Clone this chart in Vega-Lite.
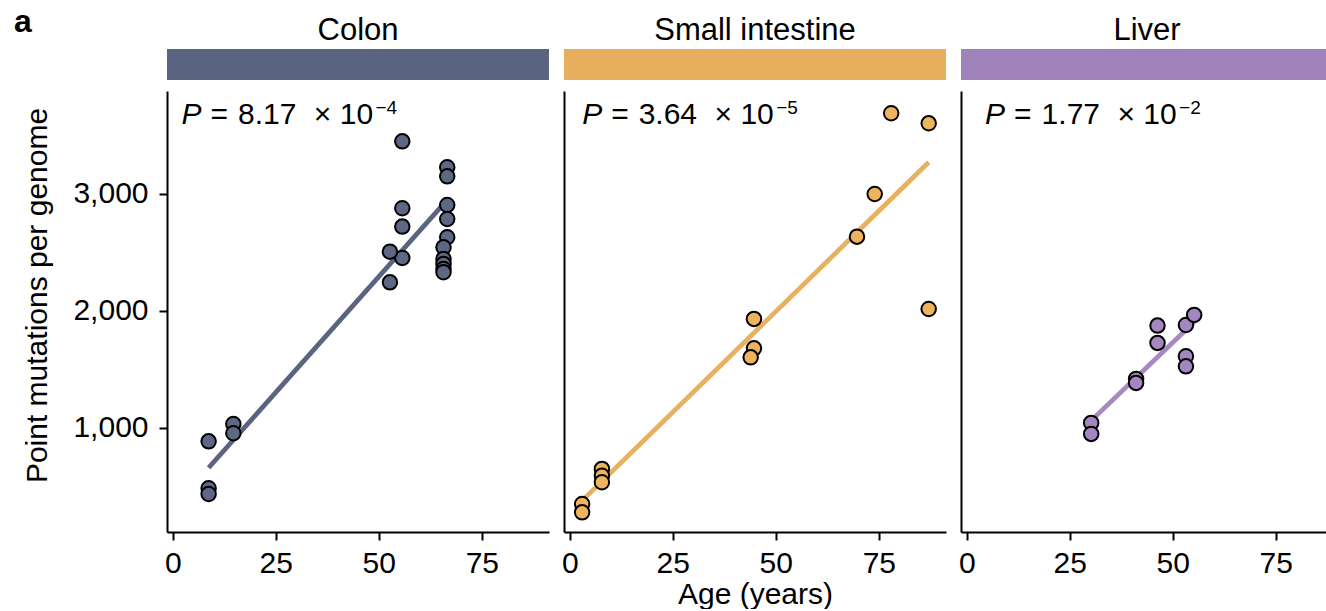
{
  "$schema": "https://vega.github.io/schema/vega-lite/v6.json",
  "padding": {"left": 13, "top": 6, "right": 0, "bottom": 0},
  "background": "white",
  "title": {"text": "a", "anchor": "start", "frame": "bounds", "fontSize": 32, "fontWeight": "bold", "color": "black", "font": "Liberation Sans", "offset": -24, "dx": -9},
  "config": {
    "font": "Liberation Sans",
    "view": {"stroke": null},
    "axis": {"domainColor": "black", "domainWidth": 2, "tickColor": "black", "tickWidth": 2, "tickSize": 8, "labelColor": "black", "labelFontSize": 30, "titleFontSize": 30, "titleFontWeight": "normal", "titleColor": "black", "grid": false, "labelFlush": false, "labelPadding": 8},
    "title": {"fontWeight": "normal", "color": "black"}
  },
  "datasets": {
    "strips": [{"tissue": "Colon"}, {"tissue": "Small intestine"}, {"tissue": "Liver"}],
    "pts": [
      {"tissue": "Colon", "age": 8.7, "value": 886},
      {"tissue": "Colon", "age": 8.7, "value": 485},
      {"tissue": "Colon", "age": 8.7, "value": 436},
      {"tissue": "Colon", "age": 14.7, "value": 1034},
      {"tissue": "Colon", "age": 14.7, "value": 955},
      {"tissue": "Colon", "age": 55.7, "value": 3450},
      {"tissue": "Colon", "age": 55.7, "value": 2878},
      {"tissue": "Colon", "age": 55.7, "value": 2721},
      {"tissue": "Colon", "age": 55.7, "value": 2453},
      {"tissue": "Colon", "age": 52.7, "value": 2507},
      {"tissue": "Colon", "age": 52.7, "value": 2245},
      {"tissue": "Colon", "age": 66.6, "value": 3228},
      {"tissue": "Colon", "age": 66.6, "value": 3151},
      {"tissue": "Colon", "age": 66.6, "value": 2906},
      {"tissue": "Colon", "age": 66.6, "value": 2786},
      {"tissue": "Colon", "age": 66.6, "value": 2630},
      {"tissue": "Colon", "age": 65.7, "value": 2544},
      {"tissue": "Colon", "age": 65.7, "value": 2444},
      {"tissue": "Colon", "age": 65.7, "value": 2402},
      {"tissue": "Colon", "age": 65.7, "value": 2359},
      {"tissue": "Colon", "age": 65.7, "value": 2331},
      {"tissue": "Small intestine", "age": 3.0, "value": 350},
      {"tissue": "Small intestine", "age": 3.0, "value": 279},
      {"tissue": "Small intestine", "age": 7.8, "value": 650},
      {"tissue": "Small intestine", "age": 7.8, "value": 592},
      {"tissue": "Small intestine", "age": 7.8, "value": 536},
      {"tissue": "Small intestine", "age": 44.7, "value": 1932},
      {"tissue": "Small intestine", "age": 44.7, "value": 1681},
      {"tissue": "Small intestine", "age": 43.9, "value": 1604},
      {"tissue": "Small intestine", "age": 69.7, "value": 2635},
      {"tissue": "Small intestine", "age": 74.0, "value": 3000},
      {"tissue": "Small intestine", "age": 78.0, "value": 3690},
      {"tissue": "Small intestine", "age": 87.1, "value": 3604},
      {"tissue": "Small intestine", "age": 87.1, "value": 2017},
      {"tissue": "Liver", "age": 30.2, "value": 1043},
      {"tissue": "Liver", "age": 30.2, "value": 949},
      {"tissue": "Liver", "age": 41.1, "value": 1419},
      {"tissue": "Liver", "age": 41.1, "value": 1385},
      {"tissue": "Liver", "age": 46.3, "value": 1875},
      {"tissue": "Liver", "age": 46.3, "value": 1727},
      {"tissue": "Liver", "age": 53.2, "value": 1880},
      {"tissue": "Liver", "age": 55.2, "value": 1966},
      {"tissue": "Liver", "age": 53.2, "value": 1613},
      {"tissue": "Liver", "age": 53.2, "value": 1527}
    ],
    "fits": [
      {"tissue": "Colon", "age": 8.7, "value": 660},
      {"tissue": "Colon", "age": 66.6, "value": 2950},
      {"tissue": "Small intestine", "age": 3.0, "value": 379},
      {"tissue": "Small intestine", "age": 87.1, "value": 3271},
      {"tissue": "Liver", "age": 30.2, "value": 1063},
      {"tissue": "Liver", "age": 55.2, "value": 1906}
    ],
    "pvals": [
      {"tissue": "Colon", "age": 2.1, "value": 3598, "mantissa": "=\u20048.17\u2004\u2005× 10", "exponent": "−4"},
      {"tissue": "Small intestine", "age": 3.0, "value": 3598, "mantissa": "=\u20043.64\u2004\u2005× 10", "exponent": "−5"},
      {"tissue": "Liver", "age": 4.45, "value": 3598, "mantissa": "=\u20041.77\u2004\u2005× 10", "exponent": "−2"}
    ]
  },
  "spacing": 12,
  "hconcat": [
    {
      "spacing": 11,
      "vconcat": [
        {
          "width": 382, "height": 31,
          "title": {"text": "Colon", "fontSize": 31, "offset": 2},
          "data": {"name": "strips"},
          "transform": [{"filter": "datum.tissue === 'Colon'"}],
          "mark": {"type": "rect"},
          "encoding": {
            "x": {"field": "tissue", "type": "nominal", "axis": null, "scale": {"paddingInner": 0, "paddingOuter": 0}},
            "color": {"field": "tissue", "type": "nominal", "legend": null, "scale": {"domain": ["Colon", "Small intestine", "Liver"], "range": ["#5A6480", "#E7AF5D", "#A083BA"]}}
          }
        },
        {
          "width": 382, "height": 441,
          "encoding": {
            "x": {"field": "age", "type": "quantitative", "scale": {"domain": [-1.4, 91.3], "nice": false, "zero": false}, "axis": {"values": [0, 25, 50, 75], "title": null}},
            "y": {"field": "value", "type": "quantitative", "scale": {"domain": [111, 3880], "nice": false, "zero": false}, "axis": {"values": [1000, 2000, 3000], "format": ",.0f", "title": "Point mutations per genome", "titlePadding": 20, "labelPadding": 11, "titleY": 204}}
          },
          "layer": [
            {"data": {"name": "fits"}, "transform": [{"filter": "datum.tissue === 'Colon'"}], "mark": {"type": "line", "strokeWidth": 4.8, "color": "#5A6480"}},
            {"data": {"name": "pts"}, "transform": [{"filter": "datum.tissue === 'Colon'"}], "mark": {"type": "circle", "size": 210, "fill": "#5E6885", "stroke": "black", "strokeWidth": 2, "opacity": 1}},
            {"data": {"name": "pvals"}, "transform": [{"filter": "datum.tissue === 'Colon'"}], "mark": {"type": "text", "text": "P", "fontStyle": "italic", "fontSize": 30, "align": "left", "baseline": "alphabetic", "color": "black"}},
            {"data": {"name": "pvals"}, "transform": [{"filter": "datum.tissue === 'Colon'"}], "mark": {"type": "text", "fontSize": 30, "align": "left", "baseline": "alphabetic", "dx": 29, "color": "black"}, "encoding": {"text": {"field": "mantissa"}}},
            {"data": {"name": "pvals"}, "transform": [{"filter": "datum.tissue === 'Colon'"}], "mark": {"type": "text", "fontSize": 19, "align": "left", "baseline": "alphabetic", "dx": 194, "dy": -10, "color": "black"}, "encoding": {"text": {"field": "exponent"}}}
          ]
        }
      ]
    },
    {
      "spacing": 11,
      "vconcat": [
        {
          "width": 382, "height": 31,
          "title": {"text": "Small intestine", "fontSize": 31, "offset": 2},
          "data": {"name": "strips"},
          "transform": [{"filter": "datum.tissue === 'Small intestine'"}],
          "mark": {"type": "rect"},
          "encoding": {
            "x": {"field": "tissue", "type": "nominal", "axis": null, "scale": {"paddingInner": 0, "paddingOuter": 0}},
            "color": {"field": "tissue", "type": "nominal", "legend": null, "scale": {"domain": ["Colon", "Small intestine", "Liver"], "range": ["#5A6480", "#E7AF5D", "#A083BA"]}}
          }
        },
        {
          "width": 382, "height": 441,
          "encoding": {
            "x": {"field": "age", "type": "quantitative", "scale": {"domain": [-1.4, 91.3], "nice": false, "zero": false}, "axis": {"values": [0, 25, 50, 75], "title": "Age (years)", "titlePadding": 1}},
            "y": {"field": "value", "type": "quantitative", "scale": {"domain": [111, 3880], "nice": false, "zero": false}, "axis": {"labels": false, "ticks": false, "title": null}}
          },
          "layer": [
            {"data": {"name": "fits"}, "transform": [{"filter": "datum.tissue === 'Small intestine'"}], "mark": {"type": "line", "strokeWidth": 4.8, "color": "#E8B15F"}},
            {"data": {"name": "pts"}, "transform": [{"filter": "datum.tissue === 'Small intestine'"}], "mark": {"type": "circle", "size": 210, "fill": "#EDB35E", "stroke": "black", "strokeWidth": 2, "opacity": 1}},
            {"data": {"name": "pvals"}, "transform": [{"filter": "datum.tissue === 'Small intestine'"}], "mark": {"type": "text", "text": "P", "fontStyle": "italic", "fontSize": 30, "align": "left", "baseline": "alphabetic", "color": "black"}},
            {"data": {"name": "pvals"}, "transform": [{"filter": "datum.tissue === 'Small intestine'"}], "mark": {"type": "text", "fontSize": 30, "align": "left", "baseline": "alphabetic", "dx": 29, "color": "black"}, "encoding": {"text": {"field": "mantissa"}}},
            {"data": {"name": "pvals"}, "transform": [{"filter": "datum.tissue === 'Small intestine'"}], "mark": {"type": "text", "fontSize": 19, "align": "left", "baseline": "alphabetic", "dx": 194, "dy": -10, "color": "black"}, "encoding": {"text": {"field": "exponent"}}}
          ]
        }
      ]
    },
    {
      "spacing": 11,
      "vconcat": [
        {
          "width": 372, "height": 31,
          "title": {"text": "Liver", "fontSize": 31, "offset": 2},
          "data": {"name": "strips"},
          "transform": [{"filter": "datum.tissue === 'Liver'"}],
          "mark": {"type": "rect"},
          "encoding": {
            "x": {"field": "tissue", "type": "nominal", "axis": null, "scale": {"paddingInner": 0, "paddingOuter": 0}},
            "color": {"field": "tissue", "type": "nominal", "legend": null, "scale": {"domain": ["Colon", "Small intestine", "Liver"], "range": ["#5A6480", "#E7AF5D", "#A083BA"]}}
          }
        },
        {
          "width": 372, "height": 441,
          "encoding": {
            "x": {"field": "age", "type": "quantitative", "scale": {"domain": [-1.4, 88.9], "nice": false, "zero": false}, "axis": {"values": [0, 25, 50, 75], "title": null}},
            "y": {"field": "value", "type": "quantitative", "scale": {"domain": [111, 3880], "nice": false, "zero": false}, "axis": {"labels": false, "ticks": false, "title": null}}
          },
          "layer": [
            {"data": {"name": "fits"}, "transform": [{"filter": "datum.tissue === 'Liver'"}], "mark": {"type": "line", "strokeWidth": 4.8, "color": "#A689C0"}},
            {"data": {"name": "pts"}, "transform": [{"filter": "datum.tissue === 'Liver'"}], "mark": {"type": "circle", "size": 210, "fill": "#A587C0", "stroke": "black", "strokeWidth": 2, "opacity": 1}},
            {"data": {"name": "pvals"}, "transform": [{"filter": "datum.tissue === 'Liver'"}], "mark": {"type": "text", "text": "P", "fontStyle": "italic", "fontSize": 30, "align": "left", "baseline": "alphabetic", "color": "black"}},
            {"data": {"name": "pvals"}, "transform": [{"filter": "datum.tissue === 'Liver'"}], "mark": {"type": "text", "fontSize": 30, "align": "left", "baseline": "alphabetic", "dx": 29, "color": "black"}, "encoding": {"text": {"field": "mantissa"}}},
            {"data": {"name": "pvals"}, "transform": [{"filter": "datum.tissue === 'Liver'"}], "mark": {"type": "text", "fontSize": 19, "align": "left", "baseline": "alphabetic", "dx": 194, "dy": -10, "color": "black"}, "encoding": {"text": {"field": "exponent"}}}
          ]
        }
      ]
    }
  ]
}
